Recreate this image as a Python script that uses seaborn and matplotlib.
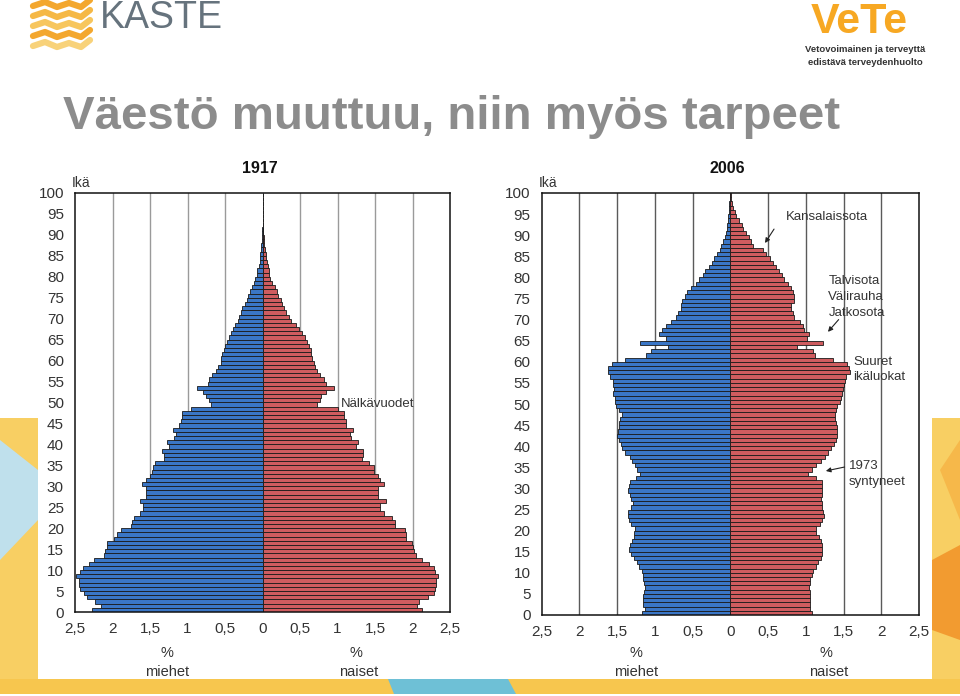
import numpy as np
import pandas as pd
import matplotlib
matplotlib.use("Agg")
import matplotlib.pyplot as plt
import seaborn as sns
from matplotlib.patches import Polygon, Rectangle

# ---------------- data ----------------
ages = list(range(100))

male_1917 = [
    2.27, 2.16, 2.23, 2.34, 2.38, 2.44, 2.45, 2.45, 2.49, 2.43,
    2.40, 2.32, 2.24, 2.12, 2.10, 2.08, 2.08, 1.98, 1.94, 1.89,
    1.76, 1.74, 1.72, 1.63, 1.60, 1.60, 1.64, 1.56, 1.56, 1.56,
    1.61, 1.56, 1.50, 1.48, 1.46, 1.43, 1.32, 1.32, 1.34, 1.25,
    1.27, 1.18, 1.16, 1.20, 1.12, 1.09, 1.08, 1.07, 0.96, 0.69,
    0.72, 0.76, 0.79, 0.87, 0.73, 0.71, 0.67, 0.62, 0.60, 0.56,
    0.55, 0.54, 0.52, 0.50, 0.48, 0.45, 0.42, 0.40, 0.37, 0.33,
    0.31, 0.29, 0.27, 0.24, 0.21, 0.19, 0.17, 0.14, 0.12, 0.10,
    0.08, 0.07, 0.05, 0.04, 0.035, 0.03, 0.02, 0.015, 0.012, 0.01,
    0.008, 0.004, 0.0, 0.0, 0.0, 0.0, 0.0, 0.0, 0.0, 0.0,
]
female_1917 = [
    2.13, 2.06, 2.08, 2.20, 2.28, 2.30, 2.31, 2.31, 2.34, 2.30,
    2.28, 2.22, 2.13, 2.04, 2.02, 2.00, 1.99, 1.91, 1.91, 1.90,
    1.77, 1.76, 1.72, 1.62, 1.56, 1.56, 1.64, 1.54, 1.54, 1.54,
    1.62, 1.56, 1.54, 1.48, 1.48, 1.42, 1.32, 1.34, 1.34, 1.24,
    1.27, 1.18, 1.17, 1.20, 1.11, 1.11, 1.09, 1.08, 1.00, 0.73,
    0.77, 0.78, 0.84, 0.95, 0.84, 0.82, 0.77, 0.72, 0.70, 0.68,
    0.66, 0.64, 0.64, 0.62, 0.59, 0.56, 0.52, 0.49, 0.44, 0.38,
    0.35, 0.31, 0.28, 0.26, 0.24, 0.21, 0.19, 0.16, 0.12, 0.10,
    0.09, 0.08, 0.07, 0.06, 0.05, 0.04, 0.03, 0.025, 0.02, 0.015,
    0.01, 0.005, 0.0, 0.0, 0.0, 0.0, 0.0, 0.0, 0.0, 0.0,
]
male_2006 = [
    1.17, 1.13, 1.15, 1.15, 1.15, 1.14, 1.13, 1.14, 1.15, 1.15,
    1.17, 1.21, 1.23, 1.28, 1.31, 1.34, 1.33, 1.30, 1.28, 1.27,
    1.26, 1.31, 1.34, 1.36, 1.35, 1.31, 1.29, 1.31, 1.33, 1.35,
    1.34, 1.33, 1.25, 1.20, 1.23, 1.26, 1.30, 1.33, 1.40, 1.44,
    1.45, 1.47, 1.50, 1.49, 1.48, 1.47, 1.46, 1.44, 1.48, 1.51,
    1.53, 1.53, 1.55, 1.54, 1.55, 1.55, 1.59, 1.62, 1.62, 1.56,
    1.40, 1.11, 1.05, 0.83, 1.20, 0.85, 0.94, 0.90, 0.85, 0.78,
    0.72, 0.69, 0.65, 0.65, 0.64, 0.60, 0.57, 0.52, 0.46, 0.42,
    0.36, 0.33, 0.28, 0.24, 0.21, 0.18, 0.14, 0.12, 0.10, 0.075,
    0.06, 0.045, 0.04, 0.03, 0.025, 0.02, 0.015, 0.01, 0.006, 0.004,
]
female_2006 = [
    1.08, 1.06, 1.05, 1.05, 1.05, 1.05, 1.04, 1.05, 1.06, 1.08,
    1.10, 1.13, 1.16, 1.20, 1.21, 1.22, 1.22, 1.20, 1.17, 1.13,
    1.14, 1.19, 1.22, 1.24, 1.23, 1.22, 1.21, 1.20, 1.21, 1.22,
    1.22, 1.21, 1.14, 1.03, 1.08, 1.14, 1.20, 1.25, 1.30, 1.34,
    1.37, 1.40, 1.41, 1.41, 1.41, 1.40, 1.39, 1.39, 1.40, 1.42,
    1.45, 1.47, 1.48, 1.49, 1.50, 1.52, 1.53, 1.58, 1.57, 1.54,
    1.36, 1.12, 1.10, 0.88, 1.23, 1.01, 1.04, 0.98, 0.96, 0.92,
    0.85, 0.83, 0.81, 0.81, 0.85, 0.85, 0.83, 0.80, 0.76, 0.71,
    0.69, 0.65, 0.61, 0.57, 0.52, 0.48, 0.43, 0.30, 0.28, 0.25,
    0.21, 0.17, 0.15, 0.11, 0.08, 0.06, 0.035, 0.025, 0.015, 0.01,
]

x_ticks = [-2.5, -2, -1.5, -1, -0.5, 0, 0.5, 1, 1.5, 2, 2.5]
x_tick_labels = ["2,5", "2", "1,5", "1", "0,5", "0", "0,5", "1", "1,5", "2", "2,5"]
y_ticks = list(range(0, 101, 5))
grid_values = [-2, -1.5, -1, -0.5, 0.5, 1, 1.5, 2]
years = ["1917", "2006"]
sex_labels = ["miehet", "naiset"]

BLUE = "#2273DE"
RED = "#E2494D"

# ---------------- figure ----------------
sns.set_theme(style="white")
plt.rcParams['font.family'] = ['Liberation Sans', 'DejaVu Sans']

W, H = 960, 696
fig = plt.figure(figsize=(9.6, 6.96), dpi=100)
fig.patch.set_facecolor("white")


def fx(x):
    return x / W


def fy(y):
    return 1 - y / H


# background decoration (slide template)
bg = fig.add_axes([0, 0, 1, 1], zorder=-10)
bg.set_xlim(0, W)
bg.set_ylim(H, 0)
bg.axis("off")
bg.add_patch(Rectangle((0, 679), W, 17, color="#F7C64E", lw=0))
bg.add_patch(Polygon([(388, 679), (508, 679), (516, 694), (394, 694)], closed=True, color="#6EC0D6", lw=0))
bg.add_patch(Rectangle((0, 694), W, 2, color="white", lw=0))
bg.add_patch(Polygon([(0, 418), (38, 418), (38, 679), (0, 679)], closed=True, color="#F8CF63", lw=0))
bg.add_patch(Polygon([(0, 440), (38, 470), (38, 520), (0, 560)], closed=True, color="#BFE0EC", lw=0))
bg.add_patch(Polygon([(932, 418), (960, 418), (960, 679), (932, 679)], closed=True, color="#F8CF63", lw=0))
bg.add_patch(Polygon([(960, 440), (940, 470), (960, 520)], closed=True, color="#F6B84A", lw=0))
bg.add_patch(Polygon([(932, 560), (960, 545), (960, 640), (932, 630)], closed=True, color="#F29B30", lw=0))
# KASTE logo waves
for i, col in enumerate(["#F3A72E", "#F5B846", "#F7C65E", "#F3A72E", "#F8D27A"]):
    y0 = 4 + i * 10
    xs = [33, 45, 57, 69, 81, 90]
    ys = [y0 + 2, y0 - 2, y0 + 3, y0 - 1, y0 + 3, y0 - 4]
    bg.plot(xs, ys, color=col, lw=4.5, solid_capstyle="round")

fig.text(fx(100), fy(28), "KASTE", fontsize=27, color="#66737D", va="baseline", ha="left")
fig.text(fx(859), fy(33), "VeTe", fontsize=31, fontweight="bold", color="#F7A823",
         va="baseline", ha="center")
fig.text(fx(865), fy(52), "Vetovoimainen ja terveyttä", fontsize=6.8, fontweight="bold",
         color="#333333", va="baseline", ha="center")
fig.text(fx(865), fy(65), "edistävä terveydenhuolto", fontsize=6.8, fontweight="bold",
         color="#333333", va="baseline", ha="center")
fig.text(fx(63), fy(129), "Väestö muuttuu, niin myös tarpeet", fontsize=34.1,
         fontweight="bold", color="#8C8C8C", va="baseline", ha="left")


def pyramid(px_left, px_right, px_top, px_bottom, male, female, year, grid_color):
    rect = [fx(px_left), fy(px_bottom), (px_right - px_left) / W, (px_bottom - px_top) / H]
    ax = fig.add_axes(rect)
    pos = np.array(ages, dtype=float) + 0.5
    df = pd.DataFrame({
        "pos": np.concatenate([pos, pos]),
        "value": np.concatenate([-np.array(male), np.array(female)]),
        "sex": [sex_labels[0]] * len(ages) + [sex_labels[1]] * len(ages),
    })
    for v in grid_values:
        ax.axvline(v, color=grid_color, lw=1.0, zorder=0)
    sns.barplot(data=df, x="value", y="pos", hue="sex", orient="y", native_scale=True,
                dodge=False, width=1.0, palette={sex_labels[0]: BLUE, sex_labels[1]: RED},
                edgecolor="#1a1a1a", linewidth=0.6, errorbar=None, legend=False, ax=ax)
    ax.set_xlim(-2.5, 2.5)
    ax.set_ylim(0, 100)
    ax.set_xticks(x_ticks, labels=x_tick_labels)
    ax.set_yticks(y_ticks)
    ax.set_yticklabels([str(t) for t in y_ticks])
    ax.tick_params(axis="both", length=0, labelsize=11, colors="#333333")
    ax.tick_params(axis="x", pad=7)
    ax.tick_params(axis="y", pad=8)
    ax.set_xlabel("")
    ax.set_ylabel("")
    ax.set_facecolor("white")
    for s in ax.spines.values():
        s.set_visible(True)
        s.set_color("#111111")
        s.set_linewidth(1.1)
    # titles and labels
    cx = (px_left + px_right) / 2
    fig.text(fx(cx - 3), fy(173), year, fontsize=11.5, fontweight="bold", color="#111111",
             ha="center", va="baseline")
    fig.text(fx(px_left - 3), fy(187), "Ikä", fontsize=10, color="#333333", ha="left", va="baseline")
    return ax


ax1 = pyramid(75, 450, 193, 612, male_1917, female_1917, years[0], "#9A9A9A")
ax2 = pyramid(541.5, 919, 193, 615, male_2006, female_2006, years[1], "#5A5A5A")

# axis captions
for (xm, xn) in [(167, 356), (636, 826)]:
    fig.text(fx(xm), fy(657), "%", fontsize=10.5, color="#333333", ha="center", va="baseline")
    fig.text(fx(xm), fy(676), sex_labels[0], fontsize=10.5, color="#333333", ha="center", va="baseline")
    fig.text(fx(xn), fy(657), "%", fontsize=10.5, color="#333333", ha="center", va="baseline")
    fig.text(fx(xn + 3), fy(676), sex_labels[1], fontsize=10.5, color="#333333", ha="center", va="baseline")

# annotations
ann_kw = dict(fontsize=9.5, color="#333333", va="center", ha="left")
arrow_kw = dict(arrowstyle="-|>", color="#222222", lw=0.8, mutation_scale=7)

ax1.text(1.04, 49.6, "Nälkävuodet", **ann_kw)

ax2.text(0.74, 94.4, "Kansalaissota", **ann_kw)
ax2.annotate("", xy=(0.44, 87.6), xytext=(0.6, 92.0), arrowprops=arrow_kw)

ax2.text(1.30, 79.2, "Talvisota", **ann_kw)
ax2.text(1.30, 75.4, "Välirauha", **ann_kw)
ax2.text(1.30, 71.6, "Jatkosota", **ann_kw)
ax2.annotate("", xy=(1.27, 66.6), xytext=(1.46, 70.5), arrowprops=arrow_kw)

ax2.text(1.63, 60.0, "Suuret", **ann_kw)
ax2.text(1.63, 56.4, "ikäluokat", **ann_kw)

ax2.text(1.57, 35.2, "1973", **ann_kw)
ax2.text(1.57, 31.4, "syntyneet", **ann_kw)
ax2.annotate("", xy=(1.23, 34.0), xytext=(1.55, 35.2), arrowprops=arrow_kw)

fig.savefig("out.png", dpi=100)
